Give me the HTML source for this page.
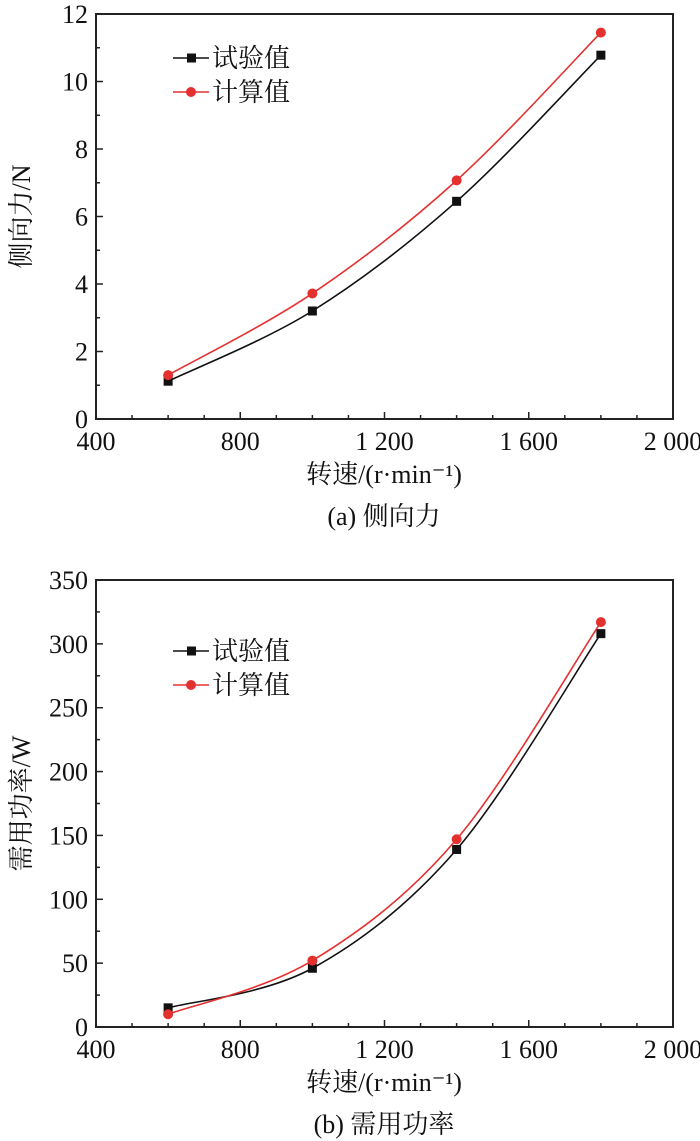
<!DOCTYPE html>
<html><head><meta charset="utf-8"><style>
html,body{margin:0;padding:0;background:#fff;}
svg{display:block;font-family:"Liberation Serif","Noto Serif CJK SC","Noto Sans CJK SC",serif;}
</style></head><body>
<svg id="svg" width="700" height="1141" viewBox="0 0 700 1141" xmlns="http://www.w3.org/2000/svg"></svg>
<script>
const speeds = [600, 1000, 1400, 1800];
const forceExp = [1.12, 3.2, 6.45, 10.78];
const forceCalc = [1.3, 3.72, 7.07, 11.45];
const powerExp = [15, 46, 139, 308];
const powerCalc = [10, 52, 147, 317];
const xTicks = [400, 800, 1200, 1600, 2000];
const xTickLabels = ["400", "800", "1 200", "1 600", "2 000"];
const forceTicks = [0, 2, 4, 6, 8, 10, 12];
const powerTicks = [0, 50, 100, 150, 200, 250, 300, 350];

const NS = "http://www.w3.org/2000/svg";
const svg = document.getElementById('svg');
const FS = 26;
function mk(tag, attrs, parent, text) {
  const e = document.createElementNS(NS, tag);
  for (const k in attrs) e.setAttribute(k, attrs[k]);
  if (text !== undefined) e.textContent = text;
  (parent || svg).appendChild(e);
  return e;
}
function spline(pts) {
  let d = `M${pts[0][0]},${pts[0][1]}`;
  for (let i = 0; i < pts.length - 1; i++) {
    const p0 = pts[i - 1] || pts[i], p1 = pts[i], p2 = pts[i + 1], p3 = pts[i + 2] || p2;
    const c1 = [p1[0] + (p2[0] - p0[0]) / 6, p1[1] + (p2[1] - p0[1]) / 6];
    const c2 = [p2[0] - (p3[0] - p1[0]) / 6, p2[1] - (p3[1] - p1[1]) / 6];
    d += ` C${c1[0]},${c1[1]} ${c2[0]},${c2[1]} ${p2[0]},${p2[1]}`;
  }
  return d;
}
function chart(cfg) {
  const g = mk('g', {});
  
  
  const L = 96, R = 673, T = cfg.top, B = cfg.bottom;
  const xs = v => L + (v - 400) / 1600 * (R - L);
  const ys = v => B - v / cfg.ymax * (B - T);
  const frame = mk('rect', {x: L, y: T, width: R - L, height: B - T, fill: 'none', stroke: '#222', 'stroke-width': 2}, g);
  
  
  for (let v = 400; v <= 2000; v += 100) {
    const major = v % 400 === 0;
    mk('line', {x1: xs(v), x2: xs(v), y1: B, y2: B - (major ? 7 : 4), stroke: '#222', 'stroke-width': 1.5}, g);
  }
  xTicks.forEach((v, i) => {
    const t = mk('text', {x: xs(v), y: B + 31, 'font-size': FS, 'text-anchor': 'middle', fill: '#111'}, g, xTickLabels[i]);
    
    
  });
  const step = cfg.yticks[1] - cfg.yticks[0];
  for (let v = 0; v <= cfg.ymax + 1e-9; v += step / 2) {
    const major = Math.abs(v / step - Math.round(v / step)) < 1e-6;
    mk('line', {x1: L, x2: L + (major ? 7 : 4), y1: ys(v), y2: ys(v), stroke: '#222', 'stroke-width': 1.5}, g);
  }
  cfg.yticks.forEach(v => {
    const t = mk('text', {x: L - 8, y: ys(v) + 9, 'font-size': FS, 'text-anchor': 'end', fill: '#111'}, g, String(v));
    
    
  });
  const xt = mk('text', {x: 384, y: B + 64, 'font-size': FS, 'text-anchor': 'middle', fill: '#111'}, g, '转速/(r·min⁻¹)');
  
  
  const yt = mk('text', {x: 0, y: 0, 'font-size': FS, 'text-anchor': 'middle', fill: '#111', transform: `translate(30,${(T + B) / 2}) rotate(-90)`}, g, cfg.ytitle);
  
  
  const cap = mk('text', {x: 384, y: B + 106, 'font-size': FS, 'text-anchor': 'middle', fill: '#111'}, g, cfg.caption);
  
  
  const series = [
    {vals: cfg.exp, color: '#111', marker: 'square', label: '试验值'},
    {vals: cfg.calc, color: '#e53030', marker: 'circle', label: '计算值'}
  ];
  series.forEach((s, si) => {
    const pts = speeds.map((x, i) => [xs(x), ys(s.vals[i])]);
    const p = mk('path', {d: spline(pts), fill: 'none', stroke: s.color, 'stroke-width': 1.6}, g);
    
    
    pts.forEach(pt => {
      let m;
      if (s.marker === 'square') m = mk('rect', {x: pt[0] - 4.5, y: pt[1] - 4.5, width: 9, height: 9, fill: s.color}, g);
      else m = mk('circle', {cx: pt[0], cy: pt[1], r: 5, fill: s.color}, g);
      
      
    });
    const ly = cfg.legY + si * cfg.legGap;
    const lg = mk('g', {}, g);
    
    
    mk('line', {x1: 173, x2: 209, y1: ly, y2: ly, stroke: s.color, 'stroke-width': 1.6}, lg);
    if (s.marker === 'square') mk('rect', {x: 187, y: ly - 4.5, width: 9, height: 9, fill: s.color}, lg);
    else mk('circle', {cx: 191, cy: ly, r: 5, fill: s.color}, lg);
    mk('text', {x: 212, y: ly + 9, 'font-size': FS, fill: '#111'}, lg, s.label);
  });
}
chart({name: 'chart-side-force', top: 14, bottom: 419, ymax: 12, yticks: forceTicks, exp: forceExp, calc: forceCalc,
  ytitle: '侧向力/N', caption: '(a) 侧向力', legY: 58, legGap: 34});
chart({name: 'chart-power', top: 580, bottom: 1027, ymax: 350, yticks: powerTicks, exp: powerExp, calc: powerCalc,
  ytitle: '需用功率/W', caption: '(b) 需用功率', legY: 651, legGap: 34});
</script>
</body></html>
